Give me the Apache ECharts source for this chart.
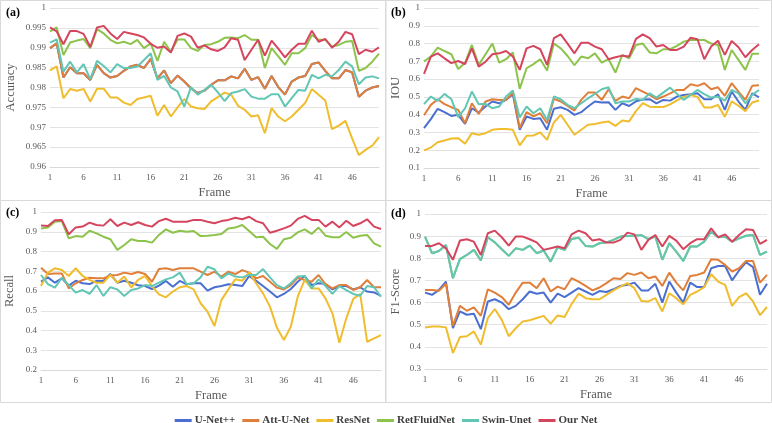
<!DOCTYPE html>
<html><head><meta charset="utf-8">
<script src="https://cdn.jsdelivr.net/npm/echarts@6/dist/echarts.min.js"></script>
<style>html,body{margin:0;padding:0;background:#fff}#c{width:772px;height:423px}</style>
</head><body><div id="c"></div>
<script>
const frames = ['1','2','3','4','5','6','7','8','9','10','11','12','13','14','15','16','17','18','19','20','21','22','23','24','25','26','27','28','29','30','31','32','33','34','35','36','37','38','39','40','41','42','43','44','45','46','47','48','49','50'];
const seriesNames = ['U-Net++','Att-U-Net','ResNet','RetFluidNet','Swin-Unet','Our Net'];
const colors = ['#4a6fd0','#e07f3a','#f0bd2e','#8cc34b','#62c6b4','#d6455e'];

// (a) Accuracy
const accAtt = [0.9899,0.9911,0.9825,0.9851,0.9836,0.9836,0.9819,0.9857,0.9836,0.9825,0.9829,0.9842,0.9853,0.9857,0.9849,0.9872,0.9823,0.9843,0.9811,0.9830,0.9815,0.9798,0.9786,0.9792,0.9807,0.9818,0.9818,0.9828,0.9823,0.9847,0.9819,0.9826,0.9797,0.9829,0.9801,0.9782,0.9815,0.9825,0.9829,0.9859,0.9863,0.9842,0.9823,0.9823,0.9844,0.9838,0.9777,0.9792,0.9800,0.9804];
const accUNetPP = [0.9899,0.9911,0.9825,0.9851,0.9836,0.9836,0.9819,0.9857,0.9836,0.9825,0.9829,0.9842,0.9853,0.9857,0.9849,0.9872,0.9823,0.9843,0.9811,0.9830,0.9815,0.9798,0.9786,0.9792,0.9807,0.9818,0.9818,0.9828,0.9823,0.9847,0.9819,0.9826,0.9797,0.9829,0.9801,0.9782,0.9815,0.9825,0.9829,0.9859,0.9863,0.9842,0.9823,0.9823,0.9844,0.9838,0.9777,0.9792,0.9800,0.9804];
const accRes = [0.9843,0.9853,0.9773,0.9796,0.9792,0.9796,0.9765,0.9797,0.9797,0.9775,0.9775,0.9762,0.9756,0.9771,0.9775,0.9779,0.9729,0.9756,0.9727,0.9750,0.9771,0.9752,0.9748,0.9746,0.9765,0.9776,0.9787,0.9782,0.9754,0.9744,0.9727,0.9730,0.9685,0.9748,0.9727,0.9715,0.9727,0.9744,0.9761,0.9796,0.9782,0.9767,0.9695,0.9704,0.9716,0.9672,0.9630,0.9643,0.9654,0.9675];
const accRet = [0.9941,0.9951,0.9882,0.9913,0.9918,0.9922,0.9899,0.9947,0.9936,0.9920,0.9911,0.9915,0.9909,0.9920,0.9899,0.9911,0.9867,0.9915,0.9890,0.9921,0.9921,0.9899,0.9892,0.9907,0.9909,0.9915,0.9925,0.9926,0.9924,0.9932,0.9920,0.9920,0.9849,0.9899,0.9878,0.9857,0.9886,0.9886,0.9899,0.9932,0.9920,0.9920,0.9903,0.9907,0.9915,0.9917,0.9842,0.9849,0.9865,0.9885];
const accSwin = [0.9913,0.9921,0.9840,0.9865,0.9838,0.9859,0.9821,0.9867,0.9854,0.9838,0.9859,0.9849,0.9849,0.9853,0.9869,0.9886,0.9819,0.9829,0.9800,0.9790,0.9752,0.9801,0.9782,0.9794,0.9807,0.9788,0.9766,0.9786,0.9790,0.9796,0.9777,0.9772,0.9772,0.9783,0.9783,0.9752,0.9773,0.9794,0.9792,0.9832,0.9823,0.9832,0.9828,0.9844,0.9865,0.9853,0.9808,0.9825,0.9828,0.9823];
const accOur = [0.9951,0.9941,0.9909,0.9942,0.9942,0.9935,0.9902,0.9951,0.9955,0.9936,0.9922,0.9940,0.9936,0.9932,0.9926,0.9910,0.9900,0.9903,0.9888,0.9930,0.9936,0.9928,0.9900,0.9906,0.9896,0.9892,0.9901,0.9924,0.9920,0.9869,0.9895,0.9920,0.9880,0.9918,0.9898,0.9876,0.9895,0.9910,0.9910,0.9943,0.9915,0.9922,0.9900,0.9915,0.9940,0.9934,0.9884,0.9895,0.9890,0.9901];

// (b) IOU
const iouUNetPP = [0.324,0.375,0.433,0.414,0.393,0.399,0.348,0.436,0.412,0.446,0.474,0.464,0.483,0.515,0.315,0.390,0.376,0.380,0.315,0.433,0.442,0.427,0.399,0.414,0.446,0.474,0.468,0.470,0.427,0.464,0.449,0.475,0.485,0.487,0.464,0.483,0.479,0.502,0.511,0.515,0.520,0.487,0.487,0.515,0.427,0.530,0.474,0.427,0.520,0.498];
const iouAtt = [0.397,0.455,0.487,0.459,0.442,0.427,0.352,0.464,0.404,0.474,0.487,0.483,0.483,0.524,0.324,0.414,0.390,0.408,0.352,0.489,0.474,0.449,0.423,0.483,0.524,0.524,0.483,0.543,0.478,0.502,0.492,0.549,0.530,0.511,0.487,0.502,0.520,0.539,0.539,0.571,0.562,0.577,0.543,0.554,0.506,0.577,0.530,0.483,0.562,0.566];
const iouRes = [0.199,0.215,0.245,0.255,0.266,0.268,0.236,0.296,0.287,0.296,0.315,0.320,0.320,0.315,0.227,0.281,0.283,0.300,0.258,0.356,0.399,0.343,0.287,0.315,0.343,0.348,0.356,0.361,0.337,0.367,0.362,0.420,0.465,0.445,0.443,0.443,0.458,0.480,0.500,0.511,0.500,0.440,0.440,0.455,0.388,0.475,0.450,0.420,0.468,0.480];
const iouRet = [0.700,0.727,0.777,0.758,0.740,0.657,0.690,0.792,0.680,0.740,0.800,0.693,0.712,0.750,0.545,0.661,0.684,0.712,0.648,0.800,0.773,0.730,0.678,0.727,0.717,0.745,0.693,0.712,0.637,0.736,0.717,0.792,0.800,0.750,0.745,0.768,0.768,0.787,0.811,0.820,0.820,0.820,0.800,0.792,0.652,0.764,0.708,0.652,0.742,0.742];
const iouSwin = [0.459,0.502,0.478,0.517,0.487,0.386,0.436,0.530,0.459,0.461,0.436,0.446,0.502,0.536,0.384,0.446,0.408,0.436,0.370,0.502,0.487,0.455,0.436,0.464,0.492,0.517,0.543,0.554,0.464,0.474,0.474,0.489,0.483,0.520,0.496,0.524,0.552,0.517,0.483,0.511,0.539,0.515,0.496,0.502,0.479,0.539,0.520,0.464,0.511,0.539];
const iouOur = [0.630,0.727,0.745,0.717,0.690,0.702,0.685,0.773,0.670,0.698,0.740,0.745,0.758,0.727,0.652,0.773,0.787,0.768,0.680,0.830,0.852,0.800,0.745,0.805,0.805,0.783,0.768,0.712,0.723,0.732,0.727,0.826,0.852,0.830,0.783,0.792,0.764,0.764,0.783,0.833,0.824,0.712,0.783,0.816,0.736,0.815,0.779,0.723,0.764,0.796];

// (c) Recall
const recUNetPP = [0.647,0.669,0.642,0.664,0.627,0.652,0.639,0.635,0.651,0.651,0.686,0.642,0.652,0.642,0.629,0.625,0.610,0.627,0.651,0.622,0.651,0.634,0.639,0.639,0.602,0.619,0.625,0.634,0.630,0.625,0.676,0.651,0.625,0.597,0.568,0.585,0.610,0.647,0.676,0.630,0.639,0.635,0.608,0.625,0.625,0.608,0.619,0.597,0.593,0.575];
const recAtt = [0.718,0.686,0.689,0.689,0.613,0.639,0.656,0.667,0.664,0.664,0.679,0.681,0.693,0.686,0.696,0.686,0.647,0.711,0.715,0.706,0.715,0.715,0.715,0.698,0.681,0.698,0.673,0.698,0.686,0.706,0.693,0.664,0.676,0.647,0.617,0.608,0.630,0.667,0.656,0.647,0.681,0.635,0.613,0.630,0.630,0.605,0.619,0.656,0.619,0.619];
const recRes = [0.625,0.693,0.715,0.706,0.676,0.715,0.676,0.656,0.642,0.642,0.681,0.642,0.673,0.619,0.656,0.676,0.625,0.583,0.568,0.597,0.619,0.625,0.608,0.538,0.495,0.423,0.554,0.608,0.659,0.652,0.693,0.639,0.588,0.521,0.414,0.352,0.419,0.571,0.656,0.613,0.613,0.563,0.487,0.338,0.462,0.560,0.585,0.343,0.360,0.377];
const recRet = [0.917,0.921,0.951,0.954,0.867,0.878,0.875,0.905,0.892,0.875,0.862,0.808,0.833,0.862,0.853,0.853,0.845,0.884,0.912,0.895,0.905,0.900,0.904,0.878,0.880,0.884,0.889,0.917,0.921,0.934,0.904,0.872,0.875,0.838,0.813,0.862,0.870,0.897,0.912,0.889,0.921,0.880,0.872,0.872,0.899,0.870,0.880,0.884,0.841,0.825];
const recSwin = [0.681,0.635,0.617,0.667,0.630,0.592,0.605,0.585,0.630,0.575,0.619,0.608,0.575,0.605,0.613,0.630,0.625,0.642,0.659,0.669,0.693,0.634,0.639,0.669,0.723,0.710,0.664,0.689,0.673,0.669,0.681,0.681,0.711,0.669,0.630,0.613,0.639,0.673,0.676,0.613,0.659,0.625,0.585,0.625,0.605,0.585,0.576,0.625,0.619,0.571];
const recOur = [0.932,0.929,0.958,0.960,0.887,0.922,0.926,0.946,0.934,0.931,0.963,0.929,0.946,0.934,0.948,0.934,0.926,0.954,0.966,0.951,0.951,0.951,0.960,0.960,0.951,0.943,0.954,0.960,0.971,0.963,0.976,0.954,0.943,0.895,0.905,0.917,0.931,0.965,0.980,0.960,0.960,0.926,0.951,0.922,0.956,0.929,0.943,0.963,0.926,0.914];

// (d) F1-Score
const f1UNetPP = [0.645,0.635,0.657,0.695,0.485,0.560,0.545,0.550,0.480,0.605,0.615,0.600,0.570,0.585,0.615,0.650,0.640,0.645,0.600,0.640,0.625,0.645,0.665,0.650,0.635,0.652,0.648,0.660,0.675,0.680,0.690,0.655,0.655,0.685,0.600,0.695,0.645,0.600,0.690,0.670,0.670,0.755,0.765,0.765,0.700,0.745,0.782,0.760,0.635,0.685];
const f1Att = [0.657,0.657,0.653,0.685,0.495,0.585,0.563,0.578,0.540,0.660,0.645,0.625,0.590,0.645,0.690,0.690,0.665,0.710,0.650,0.672,0.660,0.710,0.695,0.675,0.655,0.668,0.688,0.710,0.706,0.733,0.725,0.736,0.710,0.718,0.675,0.735,0.690,0.655,0.720,0.725,0.736,0.796,0.793,0.770,0.740,0.755,0.788,0.788,0.690,0.725];
const f1Res = [0.487,0.492,0.492,0.488,0.372,0.444,0.448,0.470,0.410,0.530,0.571,0.522,0.448,0.484,0.515,0.520,0.530,0.540,0.505,0.542,0.535,0.593,0.640,0.620,0.615,0.615,0.635,0.655,0.672,0.688,0.665,0.607,0.605,0.620,0.560,0.642,0.620,0.592,0.635,0.650,0.670,0.728,0.695,0.680,0.585,0.625,0.642,0.605,0.543,0.580];
const f1Ret = [0.898,0.823,0.833,0.860,0.710,0.796,0.815,0.838,0.790,0.895,0.872,0.841,0.811,0.845,0.838,0.857,0.823,0.835,0.785,0.850,0.838,0.887,0.893,0.856,0.853,0.868,0.872,0.883,0.898,0.901,0.902,0.905,0.887,0.898,0.793,0.868,0.830,0.788,0.853,0.853,0.875,0.920,0.895,0.898,0.875,0.890,0.902,0.905,0.815,0.830];
const f1Swin = [0.898,0.823,0.833,0.860,0.710,0.796,0.815,0.838,0.790,0.895,0.872,0.841,0.811,0.845,0.838,0.857,0.823,0.835,0.785,0.850,0.838,0.887,0.893,0.856,0.853,0.868,0.872,0.883,0.898,0.901,0.902,0.905,0.887,0.898,0.793,0.868,0.830,0.788,0.853,0.853,0.875,0.920,0.895,0.898,0.875,0.890,0.902,0.905,0.815,0.830];
const f1Our = [0.856,0.856,0.868,0.845,0.793,0.880,0.886,0.875,0.815,0.913,0.925,0.895,0.857,0.898,0.898,0.886,0.872,0.838,0.845,0.853,0.845,0.908,0.925,0.913,0.880,0.886,0.871,0.871,0.883,0.916,0.908,0.838,0.883,0.905,0.853,0.901,0.880,0.841,0.868,0.886,0.886,0.935,0.895,0.908,0.875,0.905,0.931,0.928,0.865,0.883];

const yMin = [0.96, 0.1, 0.2, 0.3];
const yMax = [1, 1, 1, 1];
const yStep = [0.005, 0.1, 0.1, 0.1];
const yNames = ['Accuracy','IOU','Recall','F1-Score'];
const panelTags = ['(a)','(b)','(c)','(d)'];

const panelData = [
  [accUNetPP, accAtt, accRes, accRet, accSwin, accOur],
  [iouUNetPP, iouAtt, iouRes, iouRet, iouSwin, iouOur],
  [recUNetPP, recAtt, recRes, recRet, recSwin, recOur],
  [f1UNetPP, f1Att, f1Res, f1Ret, f1Swin, f1Our]
];

const grids = [
  {left: 50, top: 8, width: 329, height: 159},
  {left: 424, top: 8, width: 335, height: 160},
  {left: 41, top: 212, width: 340, height: 158},
  {left: 425, top: 214, width: 342, height: 155}
];
const nameGaps = [33, 22, 25, 23];
const font = "'Liberation Serif','Times New Roman',serif";
const txtColor = '#595959';

const xAxes = grids.map((g, i) => ({
  type: 'category', gridIndex: i, data: frames, boundaryGap: false,
  name: 'Frame', nameLocation: 'middle', nameGap: 19,
  nameTextStyle: {fontFamily: font, fontSize: 12.5, color: txtColor},
  axisLine: {show: true, lineStyle: {color: '#d9d9d9'}},
  axisTick: {show: false},
  axisLabel: {interval: 4, fontFamily: font, fontSize: 9, color: txtColor, margin: 6},
  splitLine: {show: false}
}));
const yAxes = grids.map((g, i) => ({
  type: 'value', gridIndex: i, min: yMin[i], max: yMax[i], interval: yStep[i],
  name: yNames[i], nameLocation: 'middle', nameGap: nameGaps[i],
  nameTextStyle: {fontFamily: font, fontSize: 12.5, color: txtColor},
  axisLine: {show: false}, axisTick: {show: false},
  axisLabel: {fontFamily: font, fontSize: 9, color: txtColor, margin: 4,
    formatter: v => String(+v.toFixed(3))},
  splitLine: {show: true, lineStyle: {color: '#e3e3e3', width: 1}}
}));

const series = [];
panelData.forEach((arrs, p) => {
  arrs.forEach((d, s) => {
    series.push({
      type: 'line', name: seriesNames[s], xAxisIndex: p, yAxisIndex: p,
      data: d, symbol: 'none', showSymbol: false,
      lineStyle: {width: 2, color: colors[s]}, itemStyle: {color: colors[s]},
      z: 2 + s
    });
  });
});

const borders = [[0.5,0.5,385,200],[386,0.5,385.5,200],[0.5,200.5,385,202],[386,200.5,385.5,202]];
const graphic = borders.map(b => ({
  type: 'rect', shape: {x: b[0], y: b[1], width: b[2], height: b[3]},
  style: {fill: 'none', stroke: '#d9d9d9', lineWidth: 1}, silent: true, z: 0
}));
const tagPos = [[6,7],[391,7],[6,207],[391,208]];
panelTags.forEach((t, i) => graphic.push({
  type: 'text', x: tagPos[i][0], y: tagPos[i][1],
  style: {text: t, font: "bold 12px 'Liberation Serif', serif", fill: '#000'}, z: 10
}));

const chart = echarts.init(document.getElementById('c'), null, {renderer: 'canvas'});
chart.setOption({
  animation: false,
  backgroundColor: '#fff',
  color: colors,
  grid: grids,
  xAxis: xAxes,
  yAxis: yAxes,
  legend: {
    data: seriesNames, left: 'center', top: 410, icon: 'rect',
    itemWidth: 17, itemHeight: 3, itemGap: 7,
    textStyle: {fontFamily: font, fontSize: 11, fontWeight: 'bold', color: '#404040', padding: [0,0,0,-2]}
  },
  graphic: graphic,
  series: series
});
</script></body></html>
